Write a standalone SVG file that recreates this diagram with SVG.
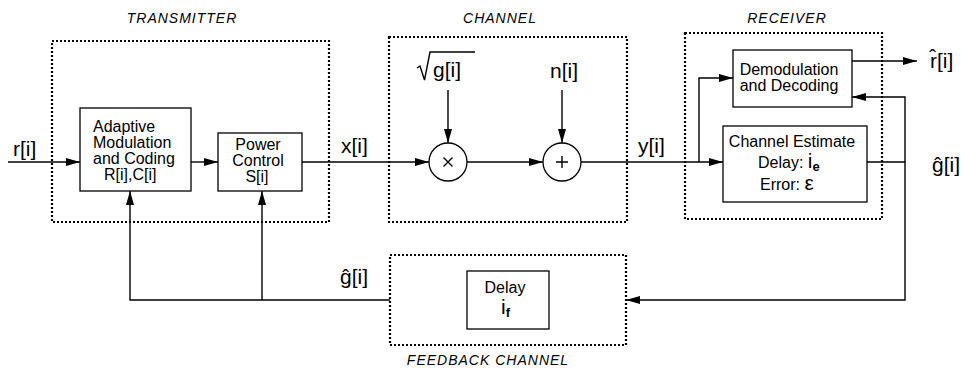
<svg xmlns="http://www.w3.org/2000/svg" width="961" height="380" viewBox="0 0 961 380">
<defs>
<marker id="ah" markerUnits="userSpaceOnUse" markerWidth="16" markerHeight="10" refX="14" refY="4" orient="auto">
<path d="M0,0 L14,4 L0,8 z" fill="#000"/>
</marker>
<style>
.dot{fill:none;stroke:#000;stroke-width:2.2;stroke-dasharray:2 2}
.box{fill:#fff;stroke:#000;stroke-width:1.3}
.ln{fill:none;stroke:#000;stroke-width:1.4}
.arr{fill:none;stroke:#000;stroke-width:1.4;marker-end:url(#ah)}
.t{font-family:"Liberation Sans",Arial,sans-serif;font-size:16px;fill:#000}
.ttl{font-family:"Liberation Sans",Arial,sans-serif;font-size:14px;font-style:italic;letter-spacing:1px;fill:#000}
.lb{font-family:"Liberation Sans",Arial,sans-serif;font-size:21px;fill:#000}
.sb{font-family:"Liberation Sans",Arial,sans-serif;font-size:13px;font-weight:bold;fill:#000}
</style>
</defs>
<rect width="961" height="380" fill="#fff"/>

<g id="transmitter">
<rect class="dot" x="52" y="41" width="277" height="181"/>
<text class="ttl" x="182" y="23" text-anchor="middle">TRANSMITTER</text>
</g>
<g id="channel">
<rect class="dot" x="389" y="37" width="238" height="185"/>
<text class="ttl" x="500" y="23" text-anchor="middle">CHANNEL</text>
</g>
<g id="receiver">
<rect class="dot" x="685" y="33" width="197" height="186"/>
<text class="ttl" x="787" y="23" text-anchor="middle">RECEIVER</text>
</g>
<g id="feedback-channel">
<rect class="dot" x="390" y="255" width="236" height="90"/>
<text class="ttl" x="488" y="365" text-anchor="middle">FEEDBACK CHANNEL</text>
</g>

<g id="connectors">
<path class="arr" d="M8,162 H80"/>
<path class="arr" d="M191,162 H218"/>
<path class="arr" d="M302,162 H429"/>
<path class="arr" d="M467,162 H543"/>
<path class="arr" d="M581,162 H723"/>
<path class="arr" d="M699,162 V78 H733"/>
<path class="arr" d="M448,90 V143"/>
<path class="arr" d="M562,90 V143"/>
<path class="arr" d="M852,61 H917"/>
<path class="arr" d="M905,162 V97 H852"/>
<path class="arr" d="M867,162 H905 V300 H626"/>
<path class="arr" d="M390,300 H130 V191"/>
<path class="arr" d="M262,300 V191"/>
</g>

<g id="adaptive-modulation">
<rect class="box" x="80" y="108" width="111" height="83"/>
<text class="t" x="93" y="132">Adaptive</text>
<text class="t" x="93" y="148">Modulation</text>
<text class="t" x="93" y="164">and Coding</text>
<text class="t" x="104" y="180">R[i],C[i]</text>
</g>
<g id="power-control">
<rect class="box" x="218" y="133" width="84" height="58"/>
<text class="t" x="258" y="150" text-anchor="middle">Power</text>
<text class="t" x="258" y="166" text-anchor="middle">Control</text>
<text class="t" x="257" y="182" text-anchor="middle">S[i]</text>
</g>
<g id="multiplier">
<circle class="box" cx="448" cy="162" r="19"/>
<path class="ln" d="M443.5,157.5 L452.5,166.5 M452.5,157.5 L443.5,166.5"/>
</g>
<g id="adder">
<circle class="box" cx="562" cy="162" r="19"/>
<path class="ln" d="M556,162 H568 M562,156 V168"/>
</g>
<g id="demodulation">
<rect class="box" x="733" y="50" width="119" height="57"/>
<text class="t" x="789" y="75" text-anchor="middle">Demodulation</text>
<text class="t" x="789" y="91" text-anchor="middle">and Decoding</text>
</g>
<g id="channel-estimate">
<rect class="box" x="723" y="126" width="144" height="76"/>
<text class="t" x="792" y="147" text-anchor="middle">Channel Estimate</text>
<text class="t" x="758" y="168">Delay: <tspan font-size="21">i</tspan><tspan class="sb" dy="3">e</tspan></text>
<text class="t" x="760" y="190">Error: <tspan font-size="21">ε</tspan></text>
</g>
<g id="delay">
<rect class="box" x="467" y="271" width="82" height="58"/>
<text class="t" x="505" y="293" text-anchor="middle">Delay</text>
<text class="lb" x="501" y="314">i<tspan class="sb" dy="3">f</tspan></text>
</g>

<g id="labels">
<text class="lb" x="13" y="156">r[i]</text>
<text class="lb" x="341" y="153">x[i]</text>
<text class="lb" x="638" y="153">y[i]</text>
<text class="lb" x="550" y="78">n[i]</text>
<text class="lb" x="433" y="77">g[i]</text>
<path class="ln" d="M417,68 L420,66 L424.5,80 L430,52 H475"/>
<text class="lb" x="930" y="68">r̂[i]</text>
<text class="lb" x="932" y="172" font-size="20">ĝ[i]</text>
<text class="lb" x="340" y="284">ĝ[i]</text>
</g>
</svg>
